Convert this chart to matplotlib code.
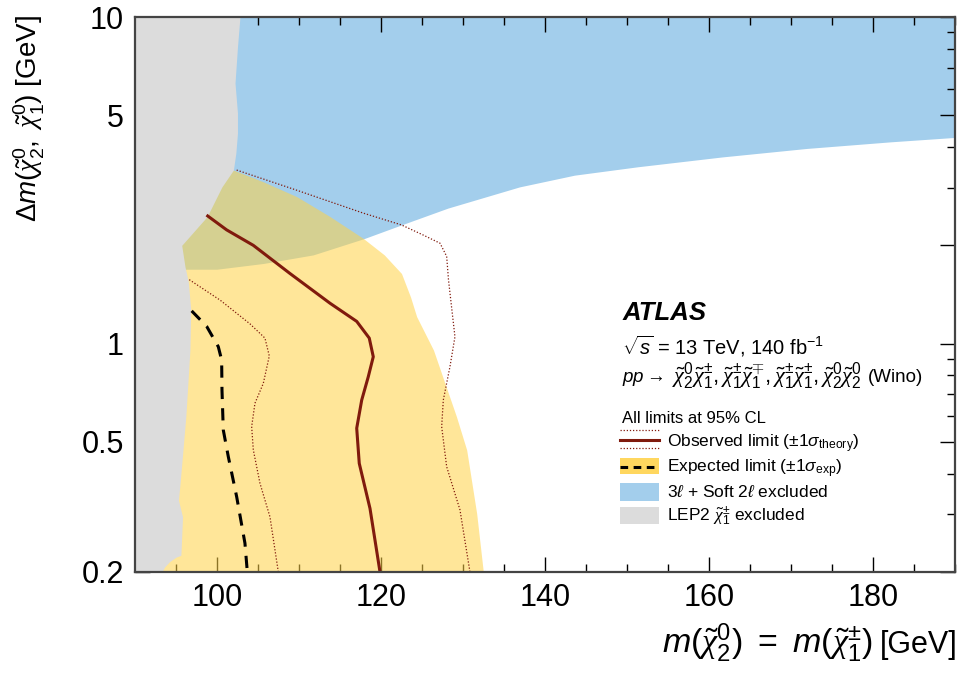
import matplotlib
matplotlib.use('Agg')
import matplotlib.pyplot as plt
import matplotlib.patches as mpatches

plt.rcParams['font.family'] = ['Liberation Sans', 'DejaVu Sans']
plt.rcParams['mathtext.fontset'] = 'custom'
plt.rcParams['mathtext.rm'] = 'Liberation Sans'
plt.rcParams['mathtext.it'] = 'Liberation Sans:italic'
plt.rcParams['mathtext.bf'] = 'Liberation Sans:bold'
plt.rcParams['mathtext.sf'] = 'Liberation Sans'
plt.rcParams['mathtext.cal'] = 'Liberation Serif:italic'   # serif chi like ROOT's #chi

# LEP2 chargino exclusion (right edge of grey band)
lep_m = [102.8, 102.5, 102.2, 102.5, 102.5, 102.3, 102.0, 100.6, 98.8, 95.7, 96.1, 96.5,
         96.8, 96.7, 96.2, 95.5, 95.3, 95.8, 95.6, 95.0, 94.2, 93.6, 93.3]
lep_dm = [10, 8.1, 6.28, 5.08, 4.41, 3.83, 3.40, 3.02, 2.45, 2.00, 1.72, 1.55,
          1.27, 0.956, 0.598, 0.374, 0.332, 0.295, 0.225, 0.222, 0.215, 0.207, 0.2]

# 3l + soft 2l excluded region (lower edge)
blue_m = [90, 96.3, 99.96, 105.65, 111.74, 118.0, 122.49, 128.15, 136.9, 143.6, 151.32,
          161.62, 171.93, 182.22, 190]
blue_dm = [1.69, 1.69, 1.69, 1.76, 1.87, 2.10, 2.31, 2.60, 3.02, 3.28, 3.48,
           3.73, 3.96, 4.15, 4.28]

# expected +-1 sigma band (outer edge)
band_m = [102.0, 105.65, 109.72, 113.78, 117.84, 120.4, 122.5, 123.6, 124.35, 126.4,
          127.8, 129.2, 130.45, 131.67, 132.48]
band_dm = [3.40, 3.13, 2.82, 2.45, 2.10, 1.87, 1.64, 1.39, 1.21, 0.956,
           0.756, 0.598, 0.473, 0.302, 0.2]

# observed limit and theory variations
obs_m = [98.87, 101.18, 104.43, 108.9, 113.78, 117.04, 118.57, 119.06, 118.45, 117.65,
         117.04, 117.35, 118.66, 119.88]
obs_dm = [2.46, 2.23, 2.00, 1.64, 1.33, 1.17, 1.04, 0.912, 0.792, 0.672,
          0.551, 0.430, 0.313, 0.2]
thu_m = [102.4, 109.72, 117.84, 122.49, 125.16, 127.2, 128.01, 128.23, 128.51, 129.02,
         128.41, 127.6, 127.4, 128.01, 129.63, 130.85]
thu_dm = [3.40, 2.95, 2.51, 2.31, 2.15, 2.03, 1.85, 1.57, 1.36, 1.05,
          0.85, 0.672, 0.557, 0.420, 0.310, 0.2]
thd_m = [96.62, 100.37, 104.02, 105.85, 106.38, 105.65, 104.63, 104.23, 104.43, 105.24,
         106.46, 107.48]
thd_dm = [1.57, 1.36, 1.15, 1.04, 0.917, 0.756, 0.657, 0.557, 0.473, 0.374,
          0.295, 0.2]

# expected limit
exp_m = [96.91, 98.74, 100.16, 100.57, 100.61, 100.77, 101.38, 102.4, 103.41, 103.7]
exp_dm = [1.26, 1.13, 0.979, 0.891, 0.721, 0.544, 0.451, 0.340, 0.245, 0.2]

blue = '#a3ceec'
yellow = '#ffd246'
grey = '#dcdcdc'
red = '#801a0d'

C = r'\tilde{\mathcal{\chi}}'

fig = plt.figure(figsize=(9.6, 6.73), dpi=100)
ax = fig.add_axes([0.1406, 0.1501, 0.8542, 0.8246])

ax.fill_between(blue_m, blue_dm, 10, color=blue, lw=0, zorder=1)
ax.fill_betweenx(band_dm, 85, band_m, color=yellow, alpha=0.55, lw=0, zorder=2)
ax.fill_betweenx(lep_dm, 85, lep_m, color=grey, lw=0, zorder=3)

ax.plot(thu_m, thu_dm, color=red, lw=0.9, ls=(0, (1, 1.5)), zorder=4)
ax.plot(thd_m, thd_dm, color=red, lw=0.9, ls=(0, (1, 1.5)), zorder=4)
ax.plot(obs_m, obs_dm, color=red, lw=2.2, zorder=5)
ax.plot(exp_m, exp_dm, color='black', lw=2.2, ls=(0, (4, 3)), zorder=5)

ax.set_xlim(90, 190)
ax.set_yscale('log')
ax.set_ylim(0.2, 10)

ax.set_xticks([100, 120, 140, 160, 180])
ax.set_xticks(range(90, 191, 5), minor=True)
ax.set_yticks([0.2, 0.5, 1, 2, 5, 10], ['0.2', '0.5', '1', '', '5', '10'])
ax.set_yticks([0.3, 0.4, 0.6, 0.7, 0.8, 0.9, 3, 4, 6, 7, 8, 9], [], minor=True)
ax.tick_params(which='both', direction='in', top=True, right=True, width=1.0, zorder=6)
ax.tick_params(which='major', length=11, labelsize=22, pad=8)
ax.tick_params(which='minor', length=5.5)
for s in ax.spines.values():
    s.set_linewidth(1.6)
    s.set_color('#444444')
    s.set_zorder(7)

# x label: math part a bit larger than the unit, as ROOT draws it
yb = 0.0297
gev = fig.text(0.998, yb, '[GeV]', ha='right', va='baseline', fontsize=22)
fig.canvas.draw()
bb = gev.get_window_extent()
fig.text((bb.x0 - 8) / fig.bbox.width, yb,
         r'$m(' + C + r'^{0}_{2})\ =\ m(' + C + r'^{\pm}_{1})$',
         ha='right', va='baseline', fontsize=24.5)
fig.text(0.031, 0.978, r'$\Delta m(' + C + r'^{0}_{2},\ ' + C + r'^{0}_{1})$ [GeV]',
         ha='center', va='top', rotation=90, fontsize=20)

# labels
tx = ax.transAxes
ax.text(0.594, 0.454, 'ATLAS', transform=tx, fontsize=18.5, fontweight='bold', style='italic', zorder=8)
ax.text(0.594, 0.391, r'$\sqrt{s}$ = 13 TeV, 140 fb$^{-1}$', transform=tx, fontsize=14.5, zorder=8)
ax.text(0.594, 0.342, r'$pp\rightarrow$', transform=tx, fontsize=13.5, zorder=8)
ax.text(0.655, 0.342,
        r'$' + C + r'^{0}_{2}' + C + r'^{\pm}_{1}, ' + C + r'^{\pm}_{1}' + C + r'^{\mp}_{1}, '
        + C + r'^{\pm}_{1}' + C + r'^{\pm}_{1}, ' + C + r'^{0}_{2}' + C + r'^{0}_{2}$',
        transform=tx, fontsize=16, zorder=8)
ax.text(0.894, 0.342, '(Wino)', transform=tx, fontsize=13.5, zorder=8)
ax.text(0.594, 0.268, 'All limits at 95% CL', transform=tx, fontsize=12, zorder=8)

# legend drawn by hand
hx0, hx1 = 0.591, 0.639
ax.plot([hx0, hx1], [0.238, 0.238], transform=tx, color=red, lw=2.2, zorder=8)
ax.plot([hx0, hx1], [0.2559, 0.2559], transform=tx, color=red, lw=0.9, ls=(0, (1, 1.5)), zorder=8)
ax.plot([hx0, hx1], [0.2234, 0.2234], transform=tx, color=red, lw=0.9, ls=(0, (1, 1.5)), zorder=8)
ax.add_patch(mpatches.Rectangle((hx0, 0.1766), hx1 - hx0, 0.0288, transform=tx,
                                color='#ffd75f', lw=0, zorder=8))
ax.plot([hx0, hx1], [0.189, 0.189], transform=tx, color='black', lw=2.2, ls=(0, (2.5, 1.8)), zorder=9)
ax.add_patch(mpatches.Rectangle((hx0, 0.1285), hx1 - hx0, 0.0315, transform=tx,
                                color=blue, lw=0, zorder=8))
ax.add_patch(mpatches.Rectangle((hx0, 0.0865), hx1 - hx0, 0.0306, transform=tx,
                                color=grey, lw=0, zorder=8))
lx = 0.649
ax.text(lx, 0.224, r'Observed limit $(\pm 1\sigma_{\mathrm{theory}})$', transform=tx, fontsize=12.5, zorder=8)
ax.text(lx, 0.179, r'Expected limit $(\pm 1\sigma_{\mathrm{exp}})$', transform=tx, fontsize=12.5, zorder=8)
ax.text(lx, 0.1346, r'3$\ell$ + Soft 2$\ell$ excluded', transform=tx, fontsize=12.5, zorder=8)
ax.text(lx, 0.0925, r'LEP2 $' + C + r'^{\pm}_{1}$ excluded', transform=tx, fontsize=12.5, zorder=8)

fig.savefig('out.png', dpi=100)
